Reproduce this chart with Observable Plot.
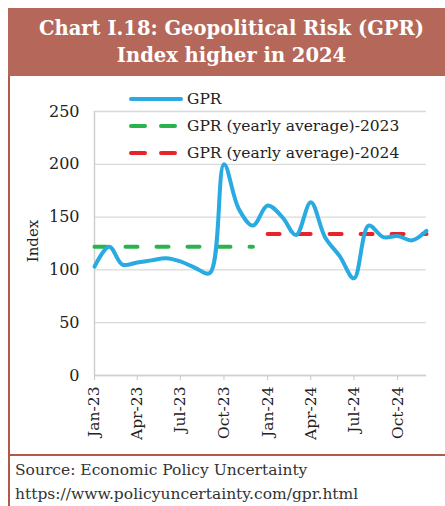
<!DOCTYPE html>
<html>
<head>
<meta charset="utf-8">
<script src="https://cdn.jsdelivr.net/npm/d3@7"></script>
<script src="https://cdn.jsdelivr.net/npm/@observablehq/plot@0.6"></script>
<style>
  body { margin:0; background:#fff; }
  #wrap { position:relative; width:445px; height:506px; overflow:hidden; background:#fff; font-family:"DejaVu Serif", serif; }
  #frame { position:absolute; left:8px; top:8px; width:440px; height:500px; border:2px solid #b0594b; box-sizing:border-box; }
  #title { position:absolute; left:8px; top:8px; width:437px; height:68px; background:#b5685a; color:#fff; font-weight:bold; font-size:19.5px; line-height:27px; text-align:center; padding-top:7px; padding-left:10px; box-sizing:border-box; white-space:nowrap; }
  #divider { position:absolute; left:8px; top:454px; width:437px; height:2px; background:#b0594b; }
  #source { position:absolute; left:15px; top:458px; font-size:15.5px; line-height:24px; color:#333; white-space:nowrap; }
  #chart { position:absolute; left:0; top:80px; }
  #legend { position:absolute; left:128px; top:85px; font-size:15.5px; color:#222; white-space:nowrap; }
  #legend div { height:27px; display:flex; align-items:center; }
  #legend svg { margin-right:3px; }
  #ylabel { position:absolute; left:33px; top:241px; transform:translate(-50%,-50%) rotate(-90deg); font-size:15px; color:#222; }
</style>
</head>
<body>
<div id="wrap">
  <div id="frame"></div>
  <div id="title">Chart I.18: Geopolitical Risk (GPR)<br>Index higher in 2024</div>
  <div id="chart"></div>
  <div id="legend"></div>
  <div id="ylabel">Index</div>
  <div id="divider"></div>
  <div id="source">Source: Economic Policy Uncertainty<br>https://www.policyuncertainty.com/gpr.html</div>
</div>
<script>
const months = ["2023-01","2023-02","2023-03","2023-04","2023-05","2023-06","2023-07","2023-08","2023-09","2023-10","2023-11","2023-12",
                "2024-01","2024-02","2024-03","2024-04","2024-05","2024-06","2024-07","2024-08","2024-09","2024-10","2024-11","2024-12"];
const gpr = [103,122,105,107,109,111,108,102,97,200,158,142,
             161,150,133,164,131,113,92,142,131,132,128,137];
const avg2023 = 122;
const avg2024 = 134;
const yTicks = [0,50,100,150,200,250];
const xTickMonths = ["2023-01","2023-04","2023-07","2023-10","2024-01","2024-04","2024-07","2024-10"];
const seriesNames = ["GPR","GPR (yearly average)-2023","GPR (yearly average)-2024"];
const seriesColors = ["#29abe2","#2bb24c","#e8232a"];

const parse = d3.utcParse("%Y-%m");
const data = months.map((m,i) => ({date: parse(m), value: gpr[i]}));
const avgData = [
  {date: parse(months[0]), value: avg2023, s: seriesNames[1]},
  {date: parse(months[11]), value: avg2023, s: seriesNames[1]},
  {date: parse(months[12]), value: avg2024, s: seriesNames[2]},
  {date: parse(months[23]), value: avg2024, s: seriesNames[2]}
];

const chart = Plot.plot({
  width: 445,
  height: 375,
  marginLeft: 94,
  marginRight: 19,
  marginTop: 31,
  marginBottom: 80,
  style: {fontFamily: '"DejaVu Serif", serif', fontSize: "14px", color: "#222", background: "transparent"},
  x: {type: "utc", domain: [parse(months[0]), parse(months[23])]},
  y: {domain: [0, 250]},
  color: {domain: seriesNames, range: seriesColors},
  marks: [
    Plot.gridY(yTicks, {stroke: "#d9d9d9", strokeOpacity: 1, strokeWidth: 1.3}),
    Plot.ruleX([parse(months[0])], {stroke: "#d0d0d0", strokeWidth: 1.5}),
    Plot.ruleY([0], {stroke: "#d0d0d0", strokeWidth: 1.5}),
    Plot.axisY(yTicks, {tickSize: 0, tickPadding: 15, fontSize: 16, label: null}),
    Plot.axisX(xTickMonths.map(parse), {tickSize: 5, tickPadding: 6, tickRotate: -90, tickFormat: d3.utcFormat("%b-%y"), fontSize: 15.5, stroke: "#c8c8c8", label: null}),
    Plot.line(avgData, {x: "date", y: "value", z: "s", stroke: "s", strokeWidth: 4, strokeDasharray: "12,19", strokeLinecap: "round"}),
    Plot.line(data, {x: "date", y: "value", stroke: seriesColors[0], strokeWidth: 4, curve: "catmull-rom"})
  ]
});
document.getElementById("chart").appendChild(chart);

const legend = document.getElementById("legend");
seriesNames.forEach((n,i) => {
  const row = document.createElement("div");
  row.innerHTML = `<svg width="56" height="8"><line x1="3" y1="4" x2="53" y2="4" stroke="${seriesColors[i]}" stroke-width="4" stroke-linecap="round" ${i===0?'':'stroke-dasharray="14,16"'}></line></svg><span>${n}</span>`;
  legend.appendChild(row);
});
</script>
</body>
</html>
